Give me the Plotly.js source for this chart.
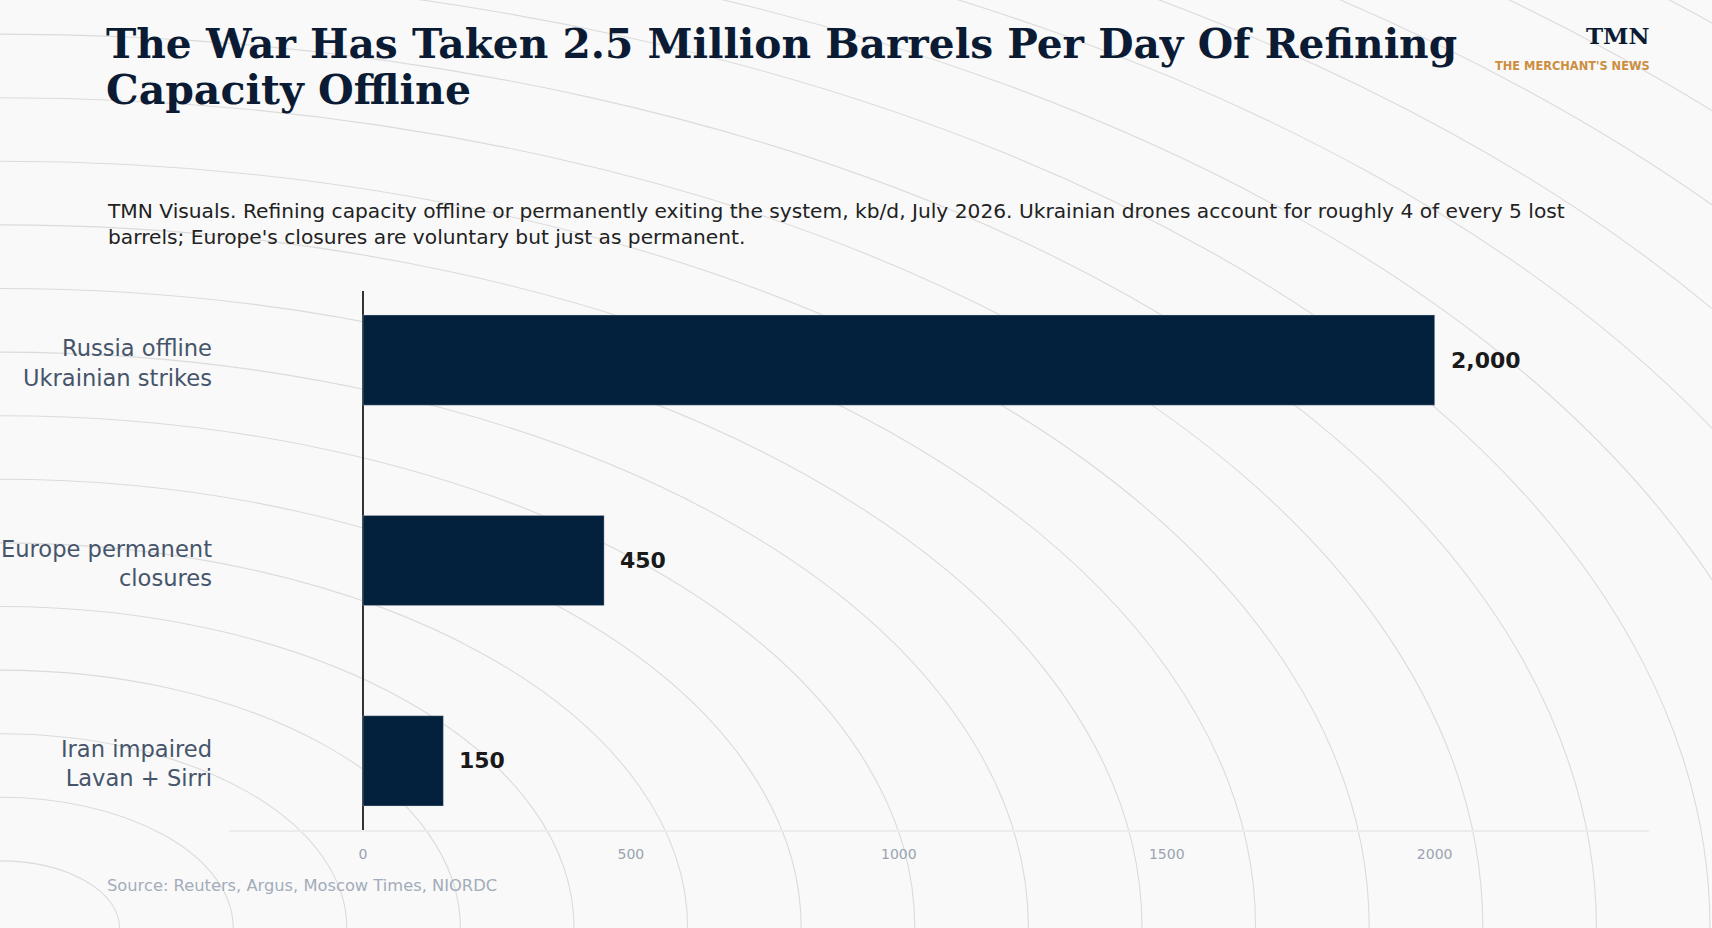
<!DOCTYPE html>
<html>
<head>
<meta charset="utf-8">
<script src="https://cdn.plot.ly/plotly-3.0.1.min.js"></script>
<style>
html,body{margin:0;padding:0;background:#f9f9f9;}
#chart{width:1712px;height:928px;}
</style>
</head>
<body>
<div id="chart"></div>
<script>
// ---- data ----
const categories = ["Russia offline<br>Ukrainian strikes", "Europe permanent<br>closures", "Iran impaired<br>Lavan + Sirri"];
const values = [2000, 450, 150];
const xTickVals = [0, 500, 1000, 1500, 2000];
const xTickText = ["0", "500", "1000", "1500", "2000"];

const titleLines = ["The War Has Taken 2.5 Million Barrels Per Day Of Refining", "Capacity Offline"];
const subtitle = "TMN Visuals. Refining capacity offline or permanently exiting the system, kb/d, July 2026. Ukrainian drones account for roughly 4 of every 5 lost<br>barrels; Europe's closures are voluntary but just as permanent.";
const sourceText = "Source: Reuters, Argus, Moscow Times, NIORDC";
const brand = "TMN";
const brandSub = "THE MERCHANT'S NEWS";

// ---- geometry ----
const W = 1712, H = 928;
const M = {l: 229, r: 63, t: 291, b: 98};
const PW = W - M.l - M.r, PH = H - M.t - M.b;
const px = x => (x - M.l) / PW;
const py = y => (H - M.b - y) / PH;

// background concentric arcs (decoration), centred on the bottom-left corner
const arcA = [], arcB = [];
for (let k = 1; k <= 21; k++) {
  arcA.push(6 + 113.6 * k);
  arcB.push(k <= 15 ? 3.5 + 63.6 * k : 954 + 57 * (k - 15));
}
const shapes = arcA.map((a, i) => ({
  type: 'circle', xref: 'paper', yref: 'paper', layer: 'below',
  x0: px(-a), x1: px(a), y0: py(H + arcB[i]), y1: py(H - arcB[i]),
  line: {color: '#dbdbdb', width: 1.1}, fillcolor: 'rgba(0,0,0,0)'
}));

const annotations = [];
const ann = (o) => annotations.push(Object.assign({showarrow: false, xref: 'paper', yref: 'paper', borderpad: 0}, o));

ann({text: titleLines[0], x: px(105), y: py(19), xanchor: 'left', yanchor: 'top',
     font: {family: 'DejaVu Serif', size: 40.7, weight: 700, color: '#0b1b34'}});
ann({text: titleLines[1], x: px(105), y: py(65), xanchor: 'left', yanchor: 'top',
     font: {family: 'DejaVu Serif', size: 41, weight: 700, color: '#0b1b34'}});
ann({text: subtitle, x: px(106), y: py(198), xanchor: 'left', yanchor: 'top', align: 'left',
     font: {family: 'DejaVu Sans', size: 20.2, color: '#222222'}});
ann({text: brand, x: px(1651), y: py(21), xanchor: 'right', yanchor: 'top',
     font: {family: 'DejaVu Serif', size: 23, weight: 700, color: '#0b1b34'}});
ann({text: brandSub, x: px(1651), y: py(58), xanchor: 'right', yanchor: 'top',
     font: {family: 'DejaVu Sans', size: 11.4, weight: 700, color: '#cc8e3f'}});
ann({text: sourceText, x: px(106), y: py(875), xanchor: 'left', yanchor: 'top',
     font: {family: 'DejaVu Sans', size: 16.3, color: '#a3acba'}});

// value labels, positioned through the data axes
values.forEach((v, i) => {
  annotations.push({
    x: v, y: categories[i], xref: 'x', yref: 'y', showarrow: false,
    xanchor: 'left', yanchor: 'middle', xshift: 15, borderpad: 0,
    text: v.toLocaleString('en-US'),
    font: {family: 'DejaVu Sans', size: 22, weight: 700, color: '#1a1a1a'}
  });
});

const trace = {
  type: 'bar', orientation: 'h',
  y: categories, x: values, width: 0.45,
  marker: {color: '#03203c', line: {color: 'rgba(200,205,215,0.35)', width: 1}},
  hoverinfo: 'skip'
};

const layout = {
  width: W, height: H,
  margin: M,
  paper_bgcolor: '#f9f9f9',
  plot_bgcolor: 'rgba(0,0,0,0)',
  showlegend: false,
  font: {family: 'DejaVu Sans'},
  xaxis: {
    range: [-250, 2400], autorange: false,
    tickvals: xTickVals, ticktext: xTickText,
    showgrid: false, zeroline: true, zerolinecolor: '#333333', zerolinewidth: 1.5,
    showline: true, linecolor: '#ececec', linewidth: 2,
    ticks: '', ticklabelstandoff: 10,
    tickfont: {family: 'DejaVu Sans', size: 14, color: '#9aa3b0'}
  },
  yaxis: {
    type: 'category', categoryarray: categories, categoryorder: 'array',
    range: [2.345, -0.345], autorange: false,
    showgrid: false, zeroline: false, showline: false, ticks: '',
    ticklabelstandoff: 16, ticklabelshift: -3,
    tickfont: {family: 'DejaVu Sans', size: 22.6, color: '#46556b'}
  },
  shapes: shapes,
  annotations: annotations
};

Plotly.newPlot('chart', [trace], layout, {staticPlot: true, displayModeBar: false});
</script>
</body>
</html>
